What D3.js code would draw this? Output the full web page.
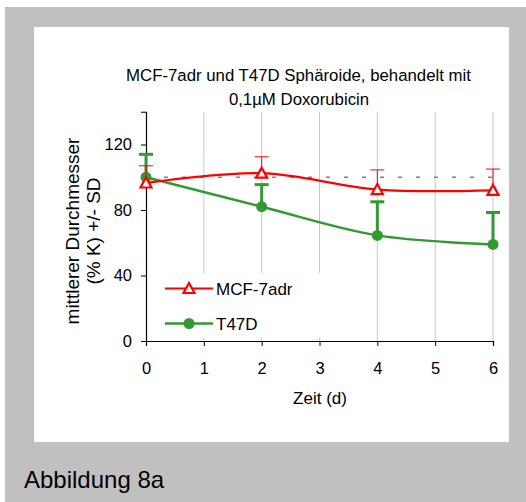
<!DOCTYPE html>
<html>
<head>
<meta charset="utf-8">
<script src="https://cdn.jsdelivr.net/npm/d3@7"></script>
<style>
body { margin: 0; background: #fff; }
text { font-family: "Liberation Sans", Arial, sans-serif; fill: #000; }
</style>
</head>
<body>
<svg id="chart" width="526" height="502"></svg>
<script>
var days = [0, 2, 4, 6];
var mcfMean = [96.5, 102.5, 92.5, 92];
var mcfSD = [10.5, 10, 12, 13];
var t47Mean = [100, 82, 64.5, 59];
var t47SD = [14, 13.5, 20.5, 19.5];
var xTicks = [0, 1, 2, 3, 4, 5, 6];
var yTicks = [0, 40, 80, 120];
var seriesNames = ["MCF-7adr", "T47D"];

var svg = d3.select("#chart");

// grey frame with white plot card
svg.append("rect").attr("x", 5).attr("y", 7).attr("width", 521).attr("height", 495).attr("fill", "#c0c0c0");
svg.append("rect").attr("x", 34).attr("y", 27).attr("width", 475).attr("height", 415).attr("fill", "#fff");

var x = d3.scaleLinear().domain([0, 6]).range([146, 493]);
var y = d3.scaleLinear().domain([0, 140]).range([341, 111.75]);

// vertical grid
svg.append("g").selectAll("line")
	.data(xTicks.slice(1))
	.enter().append("line")
		.attr("x1", d => x(d)).attr("x2", d => x(d))
		.attr("y1", y(140)).attr("y2", y(0))
		.attr("stroke", "#c8c8c8").attr("stroke-width", 1);

// reference at 100 %
svg.append("line")
	.attr("x1", x(0)).attr("x2", x(6))
	.attr("y1", y(100)).attr("y2", y(100))
	.attr("stroke", "#808080").attr("stroke-width", 1.3)
	.attr("stroke-dasharray", "4,14");

// legend box hides grid in lower left
svg.append("rect").attr("x", 150).attr("y", 273).attr("width", 176).attr("height", 65).attr("fill", "#fff");

// axes
var xAxis = svg.append("g")
	.attr("transform", "translate(0," + y(0) + ")")
	.call(d3.axisBottom(x).tickValues(xTicks).tickSize(5).tickPadding(16).tickFormat(d3.format("d")));
var yAxis = svg.append("g")
	.attr("transform", "translate(" + x(0) + ",0)")
	.call(d3.axisLeft(y).tickValues(yTicks).tickSize(5).tickPadding(9).tickFormat(d3.format("d")));
[xAxis, yAxis].forEach(function(a) {
	a.select(".domain").attr("stroke", "#000").attr("stroke-width", 1.2);
	a.selectAll(".tick line").attr("stroke", "#000");
	a.selectAll("text").attr("font-size", 16.5).attr("font-family", "Liberation Sans, Arial, sans-serif");
});

var curve = d3.curveCatmullRom.alpha(0.5);
var line = d3.line().x(d => x(d[0])).y(d => y(d[1])).curve(curve);

function draw_series(mean, sd, color, lineWidth, errWidth) {
	var g = svg.append("g");
	var pts = days.map((d, i) => [d, mean[i], sd[i]]);
	g.selectAll(".err").data(pts).enter().append("line")
		.attr("x1", d => x(d[0])).attr("x2", d => x(d[0]))
		.attr("y1", d => y(d[1])).attr("y2", d => y(d[1] + d[2]))
		.attr("stroke", color).attr("stroke-width", errWidth);
	g.selectAll(".cap").data(pts).enter().append("line")
		.attr("x1", d => x(d[0]) - 7).attr("x2", d => x(d[0]) + 7)
		.attr("y1", d => y(d[1] + d[2])).attr("y2", d => y(d[1] + d[2]))
		.attr("stroke", color).attr("stroke-width", errWidth);
	g.append("path").datum(pts).attr("d", line)
		.attr("fill", "none").attr("stroke", color).attr("stroke-width", lineWidth);
	return {g: g, pts: pts};
}

function triangle(sel, cx, cy) {
	sel.append("path")
		.attr("d", "M" + cx + "," + (cy - 5.5) + "L" + (cx + 5.5) + "," + (cy + 4.5) + "L" + (cx - 5.5) + "," + (cy + 4.5) + "Z")
		.attr("fill", "#fff").attr("stroke", "#ff0000").attr("stroke-width", 2.2);
}

var t47 = draw_series(t47Mean, t47SD, "#339933", 2.5, 3);
t47.g.selectAll("circle").data(t47.pts).enter().append("circle")
	.attr("cx", d => x(d[0])).attr("cy", d => y(d[1])).attr("r", 5.5)
	.attr("fill", "#339933");

var mcf = draw_series(mcfMean, mcfSD, "#ff0000", 2.2, 1);
mcf.pts.forEach(function(d) { triangle(mcf.g, x(d[0]), y(d[1])); });

// legend
var leg = svg.append("g");
leg.append("line").attr("x1", 165).attr("x2", 213).attr("y1", 288.5).attr("y2", 288.5)
	.attr("stroke", "#ff0000").attr("stroke-width", 2.2);
triangle(leg, 189, 288.5);
leg.append("line").attr("x1", 165).attr("x2", 213).attr("y1", 323.5).attr("y2", 323.5)
	.attr("stroke", "#339933").attr("stroke-width", 2.5);
leg.append("circle").attr("cx", 189).attr("cy", 323.5).attr("r", 5.5).attr("fill", "#339933");
leg.selectAll("text").data(seriesNames).enter().append("text")
	.attr("x", 216).attr("y", (d, i) => 294.5 + i * 35)
	.attr("font-size", 17).text(d => d);

// titles
svg.append("text").attr("x", 298.5).attr("y", 81).attr("text-anchor", "middle")
	.attr("font-size", 16.8).text("MCF-7adr und T47D Sphäroide, behandelt mit");
svg.append("text").attr("x", 299).attr("y", 105).attr("text-anchor", "middle")
	.attr("font-size", 16.8).text("0,1µM Doxorubicin");
svg.append("text").attr("x", 320).attr("y", 404).attr("text-anchor", "middle")
	.attr("font-size", 17).text("Zeit (d)");
var yl = svg.append("text").attr("transform", "translate(79,231) rotate(-90)")
	.attr("text-anchor", "middle").attr("font-size", 19);
yl.append("tspan").attr("x", 0).attr("y", 0).text("mittlerer Durchmesser");
yl.append("tspan").attr("x", 0).attr("y", 21).text("(% K) +/- SD");
svg.append("text").attr("x", 24).attr("y", 488).attr("font-size", 24).text("Abbildung 8a");
</script>
</body>
</html>
